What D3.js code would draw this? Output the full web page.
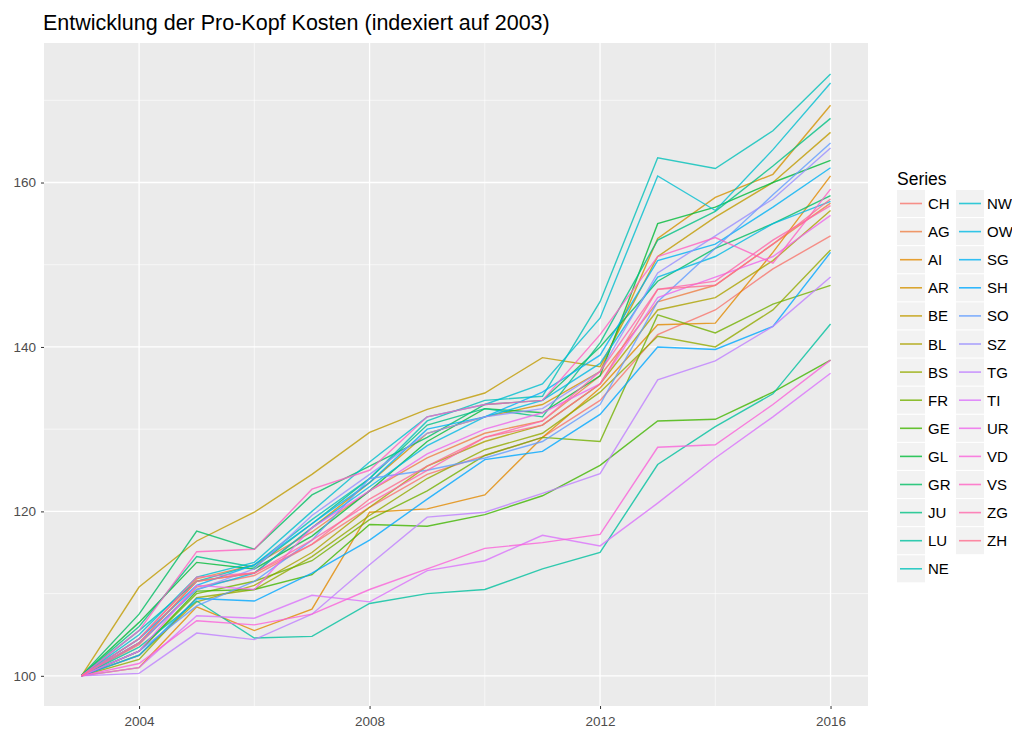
<!DOCTYPE html>
<html>
<head>
<meta charset="utf-8">
<style>
  body { margin: 0; background: #fff; }
  svg { font-family: "Liberation Sans", Arial, sans-serif; }
</style>
</head>
<body>
<svg id="chart" width="1012" height="731"></svg>
<script src="https://cdnjs.cloudflare.com/ajax/libs/d3/7.8.5/d3.min.js"></script>
<script>
// years and cantons
var years = [2003,2004,2005,2006,2007,2008,2009,2010,2011,2012,2013,2014,2015,2016];
var cantons = ["CH","AG","AI","AR","BE","BL","BS","FR","GE","GL","GR","JU","LU","NE",
               "NW","OW","SG","SH","SO","SZ","TG","TI","UR","VD","VS","ZG","ZH"];

// index values, 2003 = 100
var CH = [100,103.8,110.8,112.2,116,120.5,124.5,126.8,129,133.5,141.5,144.5,149.5,153.5];
var AG = [100,104.5,111.8,113.5,117.5,122.5,126.5,129.5,131,136.5,145.5,147.5,152.5,157.5];
var AI = [100,101,108.4,105.5,108.1,119.9,120.3,122,129,135,142.7,142.9,151.5,160.8];
var AR = [100,104,111.5,112.5,118,123.5,129.5,131.5,133,137,153.2,158.2,161,169.4];
var BE = [100,110.8,116.4,119.9,124.5,129.6,132.4,134.4,138.7,137.6,151,155.8,160,166.1];
var BL = [100,102.5,109,111,115,120.5,125.5,128.5,130.5,135.5,144.5,146,150.5,156.6];
var BS = [100,102,109.5,110.5,114.5,119.5,124,127.5,129.5,134.5,141.3,140,144.5,151.8];
var FR = [100,103,110,111.5,114,119,122.5,126.8,129,128.5,143.9,141.7,145.2,147.5];
var GE = [100,103,110.3,110.5,112.3,118.4,118.2,119.6,121.9,125.6,131,131.2,134.5,138.4];
var GL = [100,106.5,113.8,113,117,122.5,128.5,132.5,132,136.5,155,157,160,162.7];
var GR = [100,107.5,117.6,115.4,122,125.5,129,133,133.5,140,148,152,155,158.4];
var JU = [100,106,114.5,113.2,118.5,124,130.5,132.5,131.5,140.5,153,156.5,162,167.8];
var LU = [100,103.5,109.1,104.6,104.8,108.8,110,110.5,113,115,125.7,130.3,134.3,142.8];
var NE = [100,105.5,111.5,113.5,119,124,131,133.5,134,145.5,163,161.7,166.3,173.2];
var NW = [100,105,112,113.8,120,126,131.5,133,135.5,143.5,160.8,156.6,164,172.1];
var OW = [100,104,110.5,112.5,118,123,128,131.5,133.5,138,148.5,151,155,157.7];
var SG = [100,104.5,111,113.5,118.5,123.5,130,131.5,134.5,139,150.5,152.5,157,161.8];
var SH = [100,102.5,109.4,109.1,112.5,116.5,121.5,126.3,127.3,131.8,140,139.7,142.5,151.5];
var SO = [100,103,108.5,111.5,116.5,124,125,126.5,128.5,133,145.5,152,158.5,164.8];
var SZ = [100,104,110.5,113,119.5,124.5,129.5,131.5,132.5,137,149,153.5,158,164.2];
var TG = [100,100.3,105.2,104.4,107.5,113.5,119.3,119.9,122.2,124.6,136,138.3,142.5,148.5];
var TI = [100,101,107.3,107,109.8,109,112.8,114,117.1,115.8,121,126.5,131.5,136.8];
var UR = [100,103,111,110.5,118,122.5,127,130,132,135.5,146,148.5,151,156];
var VD = [100,101.5,106.7,106.2,107.5,110.5,113,115.5,116.2,117.2,127.8,128.1,133,138.4];
var VS = [100,105.5,115.1,115.4,122.7,125,131.5,133,133.5,141.5,151,153.3,150.2,159.2];
var ZG = [100,104.5,112,112.5,116.5,121,125,129,131,137,147,148,153,157.2];
var ZH = [100,104,111.5,112.5,116,121.5,125.5,129,130.5,135.5,147,147.5,152.5,158];

var seriesValues = [CH,AG,AI,AR,BE,BL,BS,FR,GE,GL,GR,JU,LU,NE,NW,OW,SG,SH,SO,SZ,TG,TI,UR,VD,VS,ZG,ZH];
var xTicks = [2004, 2008, 2012, 2016];
var yTicks = [100, 120, 140, 160];

// R-style hcl (polar LUV) -> hex, like ggplot's hue palette
function hclLuv(h, c, l) {
  var hr = h * Math.PI / 180, U = c * Math.cos(hr), V = c * Math.sin(hr);
  var Xn = 95.047, Yn = 100, Zn = 108.883;
  var un = 4 * Xn / (Xn + 15 * Yn + 3 * Zn), vn = 9 * Yn / (Xn + 15 * Yn + 3 * Zn);
  var Y = l > 8 ? Yn * Math.pow((l + 16) / 116, 3) : Yn * l / 903.3;
  var up = U / (13 * l) + un, vp = V / (13 * l) + vn;
  var X = 9 * Y * up / (4 * vp), Z = -X / 3 - 5 * Y + 3 * Y / vp;
  X /= 100; Y /= 100; Z /= 100;
  var r = 3.240479 * X - 1.53715 * Y - 0.498535 * Z,
      g = -0.969256 * X + 1.875992 * Y + 0.041556 * Z,
      b = 0.055648 * X - 0.204043 * Y + 1.057311 * Z;
  function gam(u) { u = u > 0.00304 ? 1.055 * Math.pow(u, 1 / 2.4) - 0.055 : 12.92 * u; return Math.max(0, Math.min(255, Math.round(u * 255))); }
  return d3.rgb(gam(r), gam(g), gam(b)).formatHex();
}
var n = cantons.length;
var colors = cantons.map(function(d, i) { return hclLuv(15 + i * 360 / n, 100, 65); });
var color = d3.scaleOrdinal().domain(cantons).range(colors);

var svg = d3.select("#chart");
var panel = {left: 44, top: 43, right: 868, bottom: 706};

var x = d3.scaleLinear().domain([2002.35, 2016.65]).range([panel.left, panel.right]);
var y = d3.scaleLinear().domain([96.33, 176.97]).range([panel.bottom, panel.top]);

svg.append("text")
  .attr("x", 43).attr("y", 30)
  .attr("font-size", 21.5).attr("fill", "#000")
  .text("Entwicklung der Pro-Kopf Kosten (indexiert auf 2003)");

svg.append("rect")
  .attr("x", panel.left).attr("y", panel.top)
  .attr("width", panel.right - panel.left).attr("height", panel.bottom - panel.top)
  .attr("fill", "#EBEBEB");

// minor grid
[2006, 2010, 2014].forEach(function(v) {
  svg.append("line").attr("x1", x(v)).attr("x2", x(v)).attr("y1", panel.top).attr("y2", panel.bottom)
    .attr("stroke", "#fff").attr("stroke-width", 0.6);
});
[110, 130, 150, 170].forEach(function(v) {
  svg.append("line").attr("y1", y(v)).attr("y2", y(v)).attr("x1", panel.left).attr("x2", panel.right)
    .attr("stroke", "#fff").attr("stroke-width", 0.6);
});
// major grid
xTicks.forEach(function(v) {
  svg.append("line").attr("x1", x(v)).attr("x2", x(v)).attr("y1", panel.top).attr("y2", panel.bottom)
    .attr("stroke", "#fff").attr("stroke-width", 1.3);
});
yTicks.forEach(function(v) {
  svg.append("line").attr("y1", y(v)).attr("y2", y(v)).attr("x1", panel.left).attr("x2", panel.right)
    .attr("stroke", "#fff").attr("stroke-width", 1.3);
});

// axes
var xAxis = svg.append("g").attr("transform", "translate(0," + panel.bottom + ")")
  .call(d3.axisBottom(x).tickValues(xTicks).tickFormat(d3.format("d")).tickSize(3).tickPadding(7));
var yAxis = svg.append("g").attr("transform", "translate(" + panel.left + ",0)")
  .call(d3.axisLeft(y).tickValues(yTicks).tickSize(3).tickPadding(5));
[xAxis, yAxis].forEach(function(a) {
  a.select(".domain").remove();
  a.selectAll(".tick line").attr("stroke", "#333").attr("stroke-width", 1);
  a.selectAll(".tick text").attr("fill", "#4D4D4D").attr("font-size", 13.5)
    .attr("font-family", "Liberation Sans, Arial, sans-serif");
});

// lines
var line = d3.line().x(function(d, i) { return x(years[i]); }).y(function(d) { return y(d); });
svg.append("g").selectAll("path")
  .data(seriesValues)
  .enter().append("path")
    .attr("d", line)
    .attr("fill", "none")
    .attr("stroke", function(d, i) { return color(cantons[i]); })
    .attr("stroke-width", 1.4)
    .attr("stroke-opacity", 0.8);

// legend
var lg = svg.append("g");
lg.append("text").attr("x", 897).attr("y", 185).attr("font-size", 17.5).attr("fill", "#000").text("Series");
var rows = 14, rowH = 28.1, keyW = 28, keyH = 27;
cantons.forEach(function(c, i) {
  var col = Math.floor(i / rows), row = i % rows;
  var kx = 897 + col * 59, ky = 190 + row * rowH;
  lg.append("rect").attr("x", kx).attr("y", ky).attr("width", keyW).attr("height", keyH).attr("fill", "#F2F2F2");
  lg.append("line").attr("x1", kx + 3).attr("x2", kx + keyW - 3)
    .attr("y1", ky + keyH / 2).attr("y2", ky + keyH / 2)
    .attr("stroke", color(c)).attr("stroke-width", 1.6).attr("stroke-opacity", 0.8);
  lg.append("text").attr("x", kx + keyW + 3).attr("y", ky + keyH / 2 + 5.5)
    .attr("font-size", 15).attr("fill", "#000").text(c);
});
</script>
</body>
</html>
